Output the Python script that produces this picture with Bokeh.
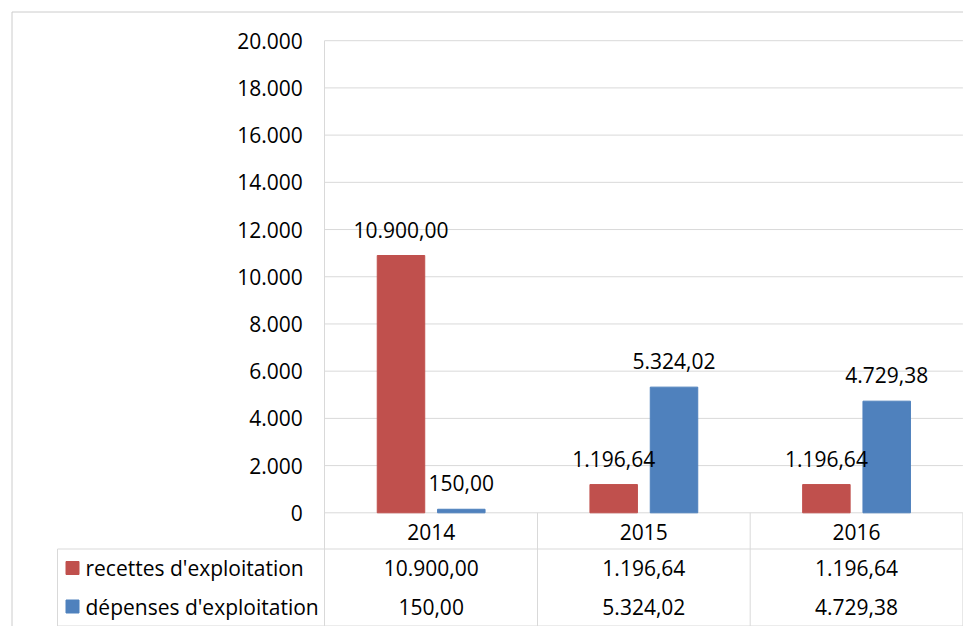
from bokeh.plotting import figure
from bokeh.models import Range1d, LinearAxis, FixedTicker
from bokeh.core.properties import value
from bokeh.embed import file_html
from bokeh.resources import INLINE

# ---- data ----
years = ["2014", "2015", "2016"]
recettes = [10900.00, 1196.64, 1196.64]
depenses = [150.00, 5324.02, 4729.38]
series_names = ["recettes d'exploitation", "dépenses d'exploitation"]
y_ticks = [0, 2000, 4000, 6000, 8000, 10000, 12000, 14000, 16000, 18000, 20000]

# ---- styles ----
RED = "#c0504d"
BLUE = "#4f81bd"
GRID = "#d9d9d9"
BORDER = "#cccccc"
FONT = "Open Sans"
FS = "21px"

W, H = 963, 626
ORG = 0  # page offset of canvas origin as seen in the picture
# page-pixel -> data helpers (layout only)
X0, CW = 324.3, 212.7
Y0, YS = 512.3, 0.023605
def dx(px):
    return (px - X0) / CW
def dy(py):
    return (Y0 - py) / YS

def fmt(v, dec=2):
    s = f"{v:,.{dec}f}"
    return s.replace(",", "#").replace(".", ",").replace("#", ".")

p = figure(width=W, height=H, output_backend="svg", toolbar_location=None,
           x_range=Range1d(dx(ORG), dx(ORG + W)), y_range=Range1d(dy(ORG + H), dy(ORG)),
           x_axis_location=None, y_axis_location=None, tools="")
p.min_border = 0
p.min_border_left = p.min_border_right = p.min_border_top = p.min_border_bottom = 0
p.outline_line_color = None
p.xgrid.visible = False
p.ygrid.visible = False
p.background_fill_color = "white"
p.border_fill_color = "white"

n = len(years)
centers = [i + 0.5 for i in range(n)]
off, bw = 0.1418, 0.2233

# gridlines from tick list
p.segment(x0=[0] * len(y_ticks), x1=[n] * len(y_ticks), y0=y_ticks, y1=y_ticks,
          line_color=GRID, line_width=1)

# table lines
y_row = dy(548.5)
y_bot = dy(625.5)
x_leg = dx(57)
p.segment(x0=[c + 0.5 for c in centers], x1=[c + 0.5 for c in centers],
          y0=[y_bot] * n, y1=[0] * n, line_color=GRID, line_width=1)
p.segment(x0=[x_leg, x_leg, x_leg], x1=[x_leg, n, n], y0=[y_bot, y_row, y_bot],
          y1=[y_row, y_row, y_bot], line_color=GRID, line_width=1)
# outer chart border (left and top)
xb, yb = dx(11.5), dy(11.5)
p.segment(x0=[xb, xb], x1=[xb, dx(ORG + W)], y0=[dy(ORG + H), yb], y1=[yb, yb],
          line_color=BORDER, line_width=1)

# y axis at category start
ax = LinearAxis(fixed_location=0, ticker=FixedTicker(ticks=y_ticks),
                bounds=(y_bot, y_ticks[-1]))
ax.major_label_overrides = {t: fmt(t, 0) for t in y_ticks}
ax.axis_line_color = GRID
ax.major_tick_in = 0
ax.major_tick_out = 0
ax.minor_tick_in = 0
ax.minor_tick_out = 0
ax.major_label_standoff = 22
ax.major_label_text_font = FONT
ax.major_label_text_font_size = FS
ax.major_label_text_color = "black"
p.add_layout(ax, "left")

# bars
xr = [c - off for c in centers]
xbl = [c + off for c in centers]
p.vbar(x=xr, top=recettes, bottom=0, width=bw, fill_color=RED, line_color=RED)
p.vbar(x=xbl, top=depenses, bottom=0, width=bw, fill_color=BLUE, line_color=BLUE)

# data labels
p.text(x=xr + xbl, y=recettes + depenses,
       text=[fmt(v) for v in recettes + depenses],
       text_font=value(FONT), text_font_size=FS, text_color="black",
       text_align="center", text_baseline="alphabetic", y_offset=-26)

# table header (categories)
p.text(x=centers, y=[dy(531)] * n, text=years, text_font=value(FONT),
       text_font_size=FS, text_color="black", text_align="center", text_baseline="middle")
# table rows
row_y = [dy(567.5), dy(606)]
for vals, ry in zip([recettes, depenses], row_y):
    p.text(x=centers, y=[ry] * n, text=[fmt(v) for v in vals], text_font=value(FONT),
           text_font_size=FS, text_color="black", text_align="center", text_baseline="middle")

# legend keys and names
p.scatter(x=[dx(72)] * 2, y=row_y, marker="square", size=13,
          fill_color=[RED, BLUE], line_color=[RED, BLUE])
p.text(x=[dx(85)] * 2, y=row_y, text=series_names, text_font=value(FONT),
       text_font_size=FS, text_color="black", text_align="left", text_baseline="middle")

open("out.html", "w").write(file_html(p, INLINE))
